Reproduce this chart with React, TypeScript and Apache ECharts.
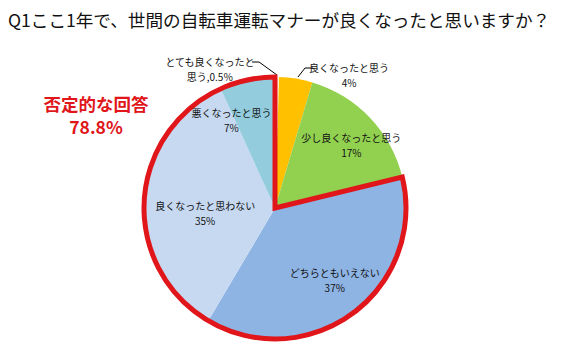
import React, { useEffect, useRef } from 'react';
import * as echarts from 'echarts';

const titleText = 'Q1ここ1年で、世間の自転車運転マナーが良くなったと思いますか？';
const categories = [
  'とても良くなったと思う',
  '良くなったと思う',
  '少し良くなったと思う',
  'どちらともいえない',
  '良くなったと思わない',
  '悪くなったと思う',
];
const labelNames = [
  'とても良くなったと\n思う',
  '良くなったと思う',
  '少し良くなったと思う',
  'どちらともいえない',
  '良くなったと思わない',
  '悪くなったと思う',
];
const values = [0.5, 4.1, 16.6, 37.3, 34.7, 6.8];
const negativeIndices = [3, 4, 5];
const negativeLabel = '否定的な回答';

const colors = ['#FFF5D6', '#FFC000', '#92D050', '#8EB4E3', '#C6D9F1', '#93CDDD'];

export default function App() {
  const ref = useRef<HTMLDivElement>(null);
  useEffect(() => {
    const chart = echarts.init(ref.current!, null, { renderer: 'svg' });
    const cx = 275;
    const cy = 208;
    const R = 131;
    const total = values.reduce((a, b) => a + b, 0);
    const negSum = negativeIndices.reduce((a, i) => a + values[i], 0);
    const posSum = total - negSum;
    const font = '"Noto Sans CJK JP", "Noto Sans", sans-serif';
    const red = '#E0161B';

    const fmt = (i: number) =>
      i === 0
        ? `${labelNames[i]},${values[i]}％`
        : `${labelNames[i]}\n${Math.round((values[i] / total) * 100)}%`;

    const nudges: Record<number, [number, number]> = {
      2: [6, 4],
      3: [2, -6],
      4: [27, 10],
      5: [-23, 7],
    };

    chart.setOption({
      animation: false,
      backgroundColor: '#ffffff',
      graphic: [
        {
          type: 'text',
          x: 8,
          y: 19,
          style: {
            text: titleText,
            fontFamily: font,
            fontSize: 17.6,
            fontWeight: 'normal',
            fill: '#111',
            verticalAlign: 'middle',
            align: 'left',
          },
        },
        {
          type: 'text',
          x: 96,
          y: 103,
          style: {
            text: negativeLabel,
            fontFamily: font,
            fontSize: 17.5,
            fontWeight: 'bold',
            fill: red,
            align: 'center',
            verticalAlign: 'middle',
          },
        },
        {
          type: 'text',
          x: 96,
          y: 126,
          style: {
            text: `${negSum.toFixed(1)}%`,
            fontFamily: font,
            fontSize: 17.5,
            fontWeight: 'bold',
            fill: red,
            align: 'center',
            verticalAlign: 'middle',
          },
        },
      ],
      series: [
        {
          type: 'pie',
          center: [cx, cy],
          radius: R,
          startAngle: 90,
          clockwise: true,
          silent: true,
          label: { show: false },
          labelLine: { show: false },
          itemStyle: { borderWidth: 0 },
          data: values.map((v, i) => ({
            name: categories[i],
            value: v,
            itemStyle: { color: colors[i] },
          })),
        },
        {
          type: 'pie',
          center: [cx, cy],
          radius: [57, R],
          startAngle: 90,
          clockwise: true,
          silent: true,
          avoidLabelOverlap: false,
          itemStyle: { color: 'transparent', borderWidth: 0 },
          labelLine: { show: false },
          label: {
            show: true,
            position: 'inside',
            fontFamily: font,
            fontSize: 10,
            lineHeight: 15,
            color: '#111',
            formatter: (p: any) => fmt(p.dataIndex),
          },
          labelLayout: (p: any) => {
            const i = p.dataIndex;
            if (i === 0) {
              return {
                x: cx - 65,
                y: cy - 139,
                align: 'center',
                verticalAlign: 'middle',
                labelLinePoints: [
                  [cx + 2, cy - 133],
                  [cx - 16, cy - 146],
                  [cx - 23, cy - 146],
                ],
              };
            }
            if (i === 1) {
              return {
                x: cx + 74,
                y: cy - 133,
                align: 'center',
                verticalAlign: 'middle',
                labelLinePoints: [
                  [cx + 23, cy - 131],
                  [cx + 30, cy - 140],
                  [cx + 38, cy - 140],
                ],
              };
            }
            const n = nudges[i] || [0, 0];
            return { dx: n[0], dy: n[1] };
          },
          data: values.map((v, i) => ({
            name: categories[i],
            value: v,
            label: i < 2 ? { position: 'outside' } : undefined,
            labelLine:
              i < 2
                ? { show: true, lineStyle: { color: '#000', width: 1 } }
                : { show: false },
          })),
        },
        {
          type: 'pie',
          center: [cx, cy],
          radius: R,
          startAngle: 90,
          clockwise: true,
          silent: true,
          label: { show: false },
          labelLine: { show: false },
          data: [
            { name: 'pos', value: posSum, itemStyle: { color: 'transparent', borderWidth: 0 } },
            {
              name: 'neg',
              value: negSum,
              itemStyle: {
                color: 'transparent',
                borderColor: red,
                borderWidth: 5,
                borderJoin: 'miter',
              },
            },
          ],
        },
      ],
    });
    return () => chart.dispose();
  }, []);
  return (
    <div
      ref={ref}
      style={{ position: 'absolute', left: 0, top: 0, width: 565, height: 356 }}
    />
  );
}
